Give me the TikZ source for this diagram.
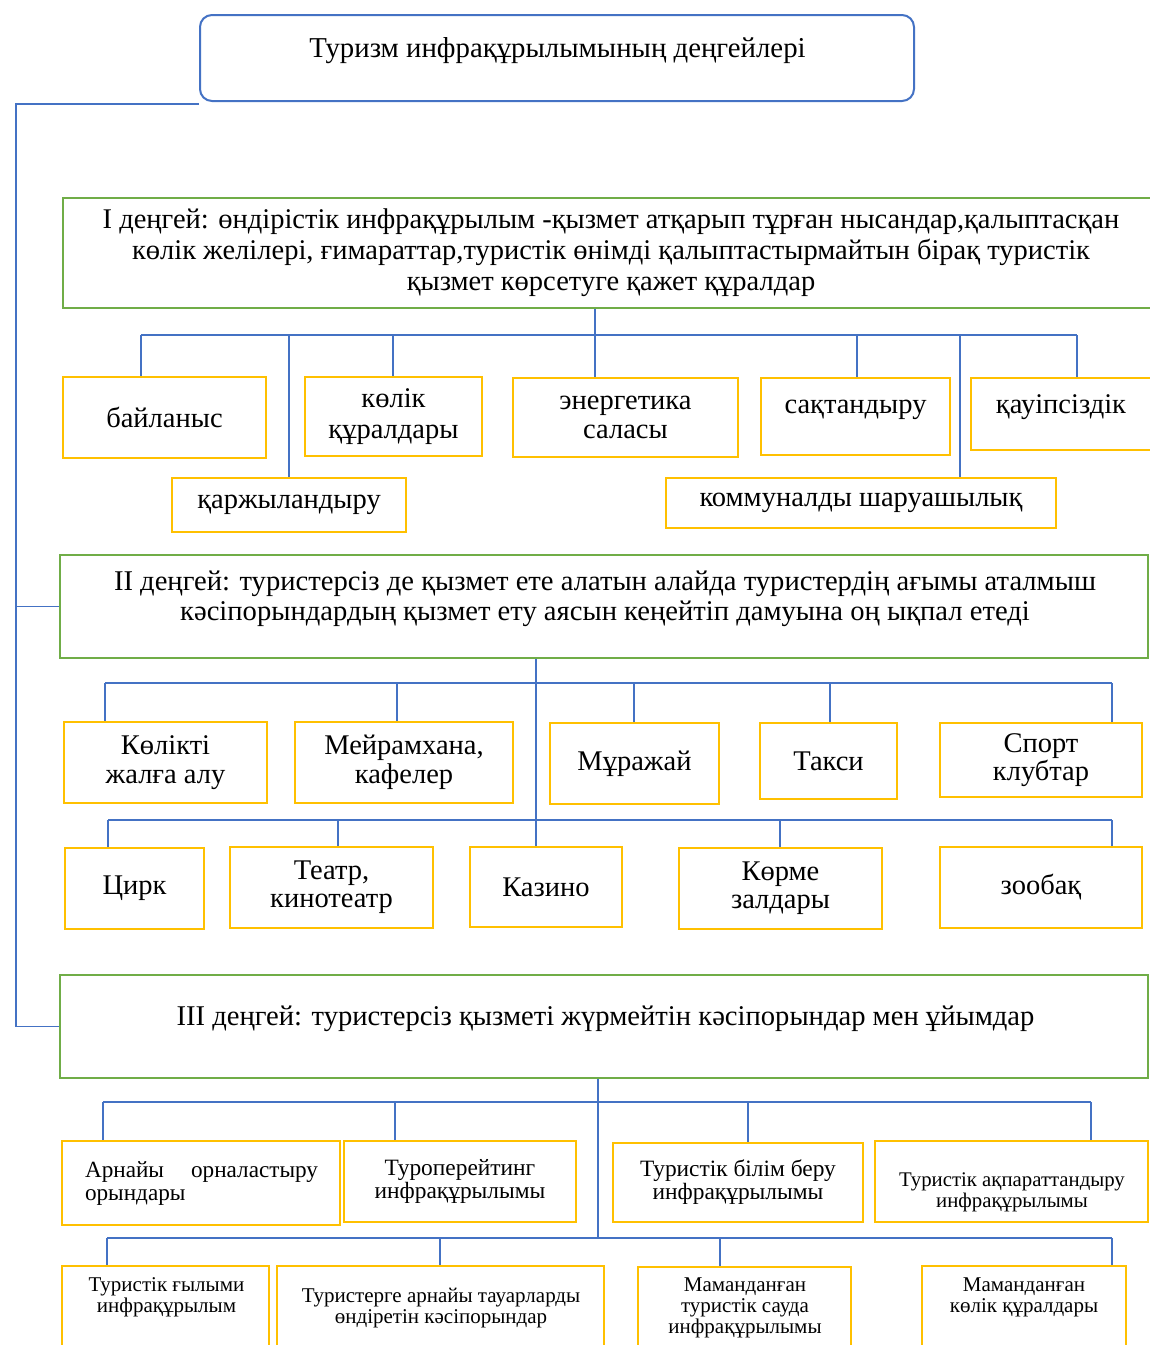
\documentclass[tikz,border=0pt]{standalone}
\usepackage{fontspec}
\setmainfont{Liberation Serif}
\newcommand\fz[2]{\fontsize{#1}{#2}\selectfont}
\definecolor{cblue}{HTML}{4472C4}
\definecolor{cgold}{HTML}{FFC000}
\definecolor{cgreen}{HTML}{70AD47}
\tikzset{
  conn/.style={draw=cblue, line width=1.3pt},
  gbox/.style={draw=cgold, line width=2.6pt, inner sep=0pt, align=center, font=\fz{28.5}{29.5}},
  lbox/.style={draw=cgreen, line width=2.6pt, inner sep=0pt},
  tbox/.style={draw=cblue, line width=2pt, rounded corners=12pt, inner sep=0pt},
  txt/.style={inner sep=0pt, align=center},
}
\begin{document}
\begin{tikzpicture}[x=1pt,y=-1pt]
\useasboundingbox (0,0) rectangle (1150,1345);
\fill[white] (0,0) rectangle (1150,1345);

% title
\node[tbox, minimum width=714pt, minimum height=86pt] (T) at (557,58) {};
\node[txt, font=\fz{28.8}{30}] (Tt) at (557.5,51) {Туризм инфрақұрылымының деңгейлері};

% level boxes
\node[lbox, minimum width=1097pt, minimum height=110pt] (L1) at (611.5,253) {};
\node[txt, font=\fz{28.5}{31}] (L1t) at (611,253) {I деңгей: өндірістік инфрақұрылым -қызмет атқарып тұрған нысандар,қалыптасқан\\көлік желілері, ғимараттар,туристік өнімді қалыптастырмайтын бірақ туристік\\қызмет көрсетуге қажет құралдар};

\node[lbox, minimum width=1088pt, minimum height=103pt] (L2) at (604,606.5) {};
\node[txt, font=\fz{28.6}{29.5}] (L2t) at (605,599) {II деңгей: туристерсіз де қызмет ете алатын алайда туристердің ағымы аталмыш\\кәсіпорындардың қызмет ету аясын кеңейтіп дамуына оң ықпал етеді};

\node[lbox, minimum width=1088pt, minimum height=103pt] (L3) at (604,1026.5) {};
\node[txt, font=\fz{28.6}{29.5}] (L3t) at (605.5,1019) {III деңгей: туристерсіз қызметі жүрмейтін кәсіпорындар мен ұйымдар};

% row I
\node[gbox, minimum width=203pt, minimum height=81pt] (bai) at (164.5,417.5) {байланыс};
\node[gbox, minimum width=177pt, minimum height=79pt, font=\fz{28.5}{31}] (kol) at (393.5,416.5) {көлік\\құралдары};
\node[gbox, minimum width=225pt, minimum height=79pt] (ene) at (625.5,417.5) {энергетика\\саласы};
\node[gbox, minimum width=189pt, minimum height=77pt] (sak) at (855.5,416.5) {};
\node[txt, font=\fz{28.5}{30}] (sakt) at (855.5,410) {сақтандыру};
\node[gbox, minimum width=181pt, minimum height=72pt] (kau) at (1061.5,414) {};
\node[txt, font=\fz{28.5}{30}] (kaut) at (1061,407) {қауіпсіздік};
\node[gbox, minimum width=234pt, minimum height=54pt] (kar) at (289,505) {қаржыландыру};
\node[gbox, minimum width=390pt, minimum height=50pt] (kom) at (861,503) {коммуналды шаруашылық};

% row II-1
\node[gbox, minimum width=203pt, minimum height=81pt] (kj) at (165.5,762.5) {Көлікті\\жалға алу};
\node[gbox, minimum width=218pt, minimum height=81pt] (mei) at (404,762.5) {Мейрамхана,\\кафелер};
\node[gbox, minimum width=169pt, minimum height=81pt] (mur) at (634.5,763.5) {Мұражай};
\node[gbox, minimum width=137pt, minimum height=76pt] (tak) at (828.5,761) {Такси};
\node[gbox, minimum width=202pt, minimum height=74pt, font=\fz{28.5}{28}] (spo) at (1041,760) {Спорт\\клубтар};
% row II-2
\node[gbox, minimum width=139pt, minimum height=81pt] (cir) at (134.5,888.5) {Цирк};
\node[gbox, minimum width=203pt, minimum height=81pt, font=\fz{28.5}{28}] (tea) at (331.5,887.5) {Театр,\\кинотеатр};
\node[gbox, minimum width=152pt, minimum height=80pt] (kaz) at (546,887) {Казино};
\node[gbox, minimum width=203pt, minimum height=81pt, font=\fz{28.5}{28}] (kor) at (780.5,888.5) {Көрме\\залдары};
\node[gbox, minimum width=202pt, minimum height=81pt] (zoo) at (1041,887.5) {зообақ};

% row III-1
\node[gbox, minimum width=278pt, minimum height=84pt] (arn) at (201,1183) {};
\node[txt, align=left, text width=233pt, font=\fz{23.2}{23}] (arnt) at (201.5,1183.5) {Арнайы\hfill орналастыру\\орындары};
\node[gbox, minimum width=232pt, minimum height=81pt, font=\fz{23.4}{23}] (tur) at (460,1181.5) {Туроперейтинг\\инфрақұрылымы};
\node[gbox, minimum width=250pt, minimum height=79pt, font=\fz{23.4}{23}] (bil) at (738,1182.5) {Туристік білім беру\\инфрақұрылымы};
\node[gbox, minimum width=273pt, minimum height=81pt] (akp) at (1011.5,1181.5) {};
\node[txt, font=\fz{20.8}{21}] (akpt) at (1012,1192.5) {Туристік ақпараттандыру\\инфрақұрылымы};

% row IV
\node[gbox, minimum width=207pt, minimum height=100pt] (gyl) at (165.5,1316) {};
\node[txt, font=\fz{21}{21}] (gylt) at (166.5,1297.5) {Туристік ғылыми\\инфрақұрылым};
\node[gbox, minimum width=327pt, minimum height=100pt] (tau) at (440.5,1316) {};
\node[txt, font=\fz{21}{21}] (taut) at (441,1308.5) {Туристерге арнайы тауарларды\\өндіретін кәсіпорындар};
\node[gbox, minimum width=213pt, minimum height=100pt] (ma1) at (744.5,1317) {};
\node[txt, font=\fz{21}{21}] (ma1t) at (745,1308) {Маманданған\\туристік сауда\\инфрақұрылымы};
\node[gbox, minimum width=204pt, minimum height=100pt] (ma2) at (1024,1316) {};
\node[txt, font=\fz{21}{21}] (ma2t) at (1024,1297.5) {Маманданған\\көлік құралдары};

% left connector
\coordinate (lv) at (16,104);
\draw[conn] (T.south west |- lv) -- (lv) -- (lv |- L3.west) -- (L3.west);
\draw[conn] (lv |- L2.west) -- (L2.west);

% level I connectors
\coordinate (c1) at (595,335);
\coordinate (b1a) at (141,335);
\coordinate (b1b) at (1077,335);
\draw[conn] (L1.south -| c1) -- (ene.north -| c1);
\draw[conn] (b1a) -- (b1b);
\draw[conn] (b1a) -- (b1a |- bai.north);
\coordinate (d1k) at (289,335); \draw[conn] (d1k) -- (kar.north);
\coordinate (d1l) at (393,335); \draw[conn] (d1l) -- (d1l |- kol.north);
\coordinate (d1s) at (857,335); \draw[conn] (d1s) -- (d1s |- sak.north);
\coordinate (d1m) at (960,335); \draw[conn] (d1m) -- (d1m |- kom.north);
\draw[conn] (b1b) -- (b1b |- kau.north);

% level II connectors
\coordinate (c2) at (536,683);
\draw[conn] (L2.south -| c2) -- (kaz.north -| c2);
\coordinate (b2a) at (105,683);
\coordinate (b2b) at (1112,683);
\draw[conn] (b2a) -- (b2b);
\draw[conn] (b2a) -- (b2a |- kj.north);
\coordinate (d2m) at (397,683); \draw[conn] (d2m) -- (d2m |- mei.north);
\coordinate (d2u) at (634,683); \draw[conn] (d2u) -- (d2u |- mur.north);
\coordinate (d2t) at (830,683); \draw[conn] (d2t) -- (d2t |- tak.north);
\draw[conn] (b2b) -- (b2b |- spo.north);
\coordinate (b3a) at (108,820);
\coordinate (b3b) at (1112,820);
\draw[conn] (b3a) -- (b3b);
\draw[conn] (b3a) -- (b3a |- cir.north);
\coordinate (d3t) at (338,820); \draw[conn] (d3t) -- (d3t |- tea.north);
\coordinate (d3k) at (780,820); \draw[conn] (d3k) -- (d3k |- kor.north);
\draw[conn] (b3b) -- (b3b |- zoo.north);

% level III connectors
\coordinate (c3) at (598,1238);
\draw[conn] (L3.south -| c3) -- (c3);
\coordinate (b4a) at (103,1102);
\coordinate (b4b) at (1091,1102);
\draw[conn] (b4a) -- (b4b);
\draw[conn] (b4a) -- (b4a |- arn.north);
\coordinate (d4t) at (395,1102); \draw[conn] (d4t) -- (d4t |- tur.north);
\coordinate (d4b) at (748,1102); \draw[conn] (d4b) -- (d4b |- bil.north);
\draw[conn] (b4b) -- (b4b |- akp.north);
\coordinate (b5a) at (107,1238);
\coordinate (b5b) at (1112,1238);
\draw[conn] (b5a) -- (b5b);
\draw[conn] (b5a) -- (b5a |- gyl.north);
\coordinate (d5t) at (440,1238); \draw[conn] (d5t) -- (d5t |- tau.north);
\coordinate (d5m) at (720,1238); \draw[conn] (d5m) -- (d5m |- ma1.north);
\draw[conn] (b5b) -- (b5b |- ma2.north);
\end{tikzpicture}
\end{document}
